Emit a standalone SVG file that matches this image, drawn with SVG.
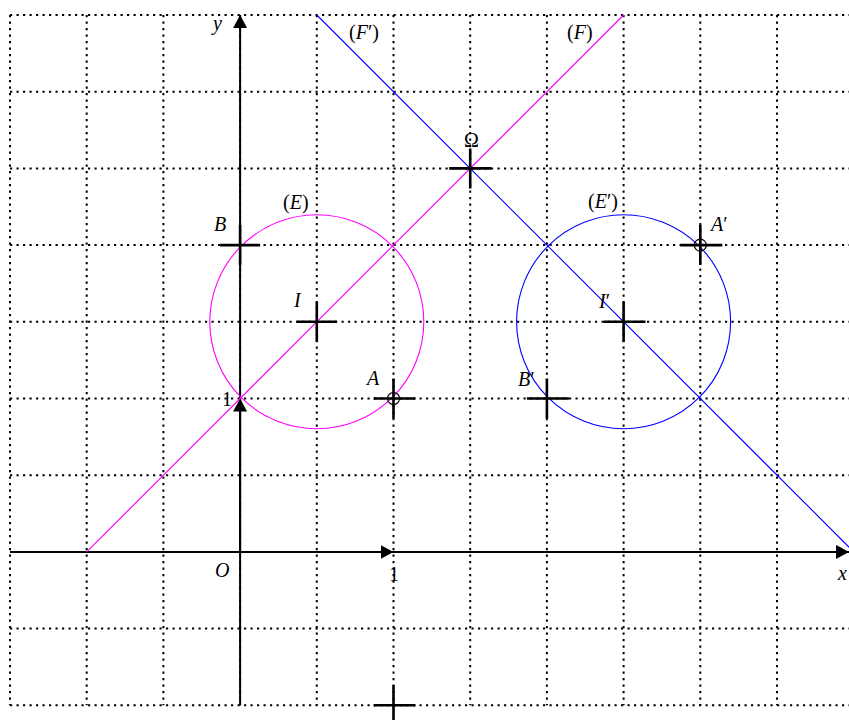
<svg xmlns="http://www.w3.org/2000/svg" width="849" height="720" viewBox="0 0 849 720">
<style>
.grid line{stroke:#000;stroke-width:2;stroke-dasharray:2.2 4.3;fill:none}
.axis{stroke:#000;stroke-width:2;fill:none}
.cross{stroke:#000;stroke-width:2.6;fill:none}
.thin{stroke-width:1.1;fill:none}
.mag{stroke:#ff00ff}
.blu{stroke:#0000ff}
text{font-family:"Liberation Serif","Times New Roman",serif;font-size:20px;fill:#000}
.it{font-style:italic}
</style>
<defs>
<marker id="arr" viewBox="0 0 13 14" refX="13" refY="7" markerWidth="13" markerHeight="14" markerUnits="userSpaceOnUse" orient="auto">
<path d="M0,0 L13,7 L0,14 Z" fill="#000"/>
</marker>
</defs>
<rect width="849" height="720" fill="#fff"/>
<g id="grid" class="grid">
<line x1="10" y1="15" x2="10" y2="705.3"/>
<line x1="86.7" y1="15" x2="86.7" y2="705.3"/>
<line x1="163.4" y1="15" x2="163.4" y2="705.3"/>
<line x1="240.1" y1="15" x2="240.1" y2="705.3"/>
<line x1="316.8" y1="15" x2="316.8" y2="705.3"/>
<line x1="393.5" y1="15" x2="393.5" y2="705.3"/>
<line x1="470.2" y1="15" x2="470.2" y2="705.3"/>
<line x1="546.9" y1="15" x2="546.9" y2="705.3"/>
<line x1="623.6" y1="15" x2="623.6" y2="705.3"/>
<line x1="700.3" y1="15" x2="700.3" y2="705.3"/>
<line x1="777" y1="15" x2="777" y2="705.3"/>
<line x1="10" y1="15" x2="849" y2="15"/>
<line x1="10" y1="91.7" x2="849" y2="91.7"/>
<line x1="10" y1="168.4" x2="849" y2="168.4"/>
<line x1="10" y1="245.1" x2="849" y2="245.1"/>
<line x1="10" y1="321.8" x2="849" y2="321.8"/>
<line x1="10" y1="398.5" x2="849" y2="398.5"/>
<line x1="10" y1="475.2" x2="849" y2="475.2"/>
<line x1="10" y1="551.9" x2="849" y2="551.9"/>
<line x1="10" y1="628.6" x2="849" y2="628.6"/>
<line x1="10" y1="705.3" x2="849" y2="705.3"/>
</g>
<g id="connectors">
<line class="axis" x1="10" y1="551.9" x2="849" y2="551.9" marker-end="url(#arr)"/>
<line class="axis" x1="240.1" y1="551.9" x2="393.5" y2="551.9" marker-end="url(#arr)"/>
<line class="axis" x1="240.1" y1="705.3" x2="240.1" y2="15" marker-end="url(#arr)"/>
<line class="axis" x1="240.1" y1="551.9" x2="240.1" y2="398.5" marker-end="url(#arr)"/>
<line id="F" class="thin mag" x1="86.7" y1="551.9" x2="623.6" y2="15"/>
<line id="Fp" class="thin blu" x1="316.8" y1="15" x2="853.8" y2="551.9"/>
</g>
<g id="E"><circle class="thin mag" cx="316.8" cy="321.8" r="107"/><text x="283" y="209">(<tspan class="it">E</tspan>)</text></g>
<g id="Ep"><circle class="thin blu" cx="623.6" cy="321.8" r="107"/><text x="588" y="208">(<tspan class="it">E</tspan>′)</text></g>
<g id="labelF"><text x="567" y="39">(<tspan class="it">F</tspan>)</text></g>
<g id="labelFp"><text x="349" y="39">(<tspan class="it">F</tspan>′)</text></g>
<g id="Omega"><path class="cross" d="M449.2,168.4 H491.2 M470.2,148.4 V188.4"/><text x="471.5" y="147" text-anchor="middle">Ω</text></g>
<g id="B"><path class="cross" d="M220.1,245.1 H260.1 M240.1,225.1 V265.1"/><text class="it" x="214" y="231">B</text></g>
<g id="I"><path class="cross" d="M296.8,321.8 H336.8 M316.8,301.8 V341.8"/><text class="it" x="294" y="307">I</text></g>
<g id="A"><path class="cross" d="M373.5,398.5 H415.5 M393.5,378.5 V418.5"/><circle cx="393.5" cy="398.5" r="6" fill="none" stroke="#000" stroke-width="1.1"/><text class="it" x="367" y="385">A</text></g>
<g id="Ap"><path class="cross" d="M680.3,245.1 H722.3 M700.3,225.1 V265.1"/><circle cx="700.3" cy="245.1" r="6" fill="none" stroke="#000" stroke-width="1.1"/><text class="it" x="711" y="231">A<tspan font-style="normal">′</tspan></text></g>
<g id="Ip"><path class="cross" d="M603.6,321.8 H645.6 M623.6,301.8 V341.8"/><text class="it" x="599" y="308">I<tspan font-style="normal">′</tspan></text></g>
<g id="Bp"><path class="cross" d="M526.9,398.5 H568.9 M546.9,378.5 V418.5"/><text class="it" x="518" y="386">B<tspan font-style="normal">′</tspan></text></g>
<g id="P"><path class="cross" d="M373.5,705.3 H415.5 M393.5,685.3 V725.3"/></g>
<g id="O"><text class="it" x="215" y="577">O</text></g>
<g id="labels">
<text class="it" x="213" y="30">y</text>
<text class="it" x="838" y="580">x</text>
<text x="222" y="406">1</text>
<text x="389" y="581">1</text>
</g>
</svg>
